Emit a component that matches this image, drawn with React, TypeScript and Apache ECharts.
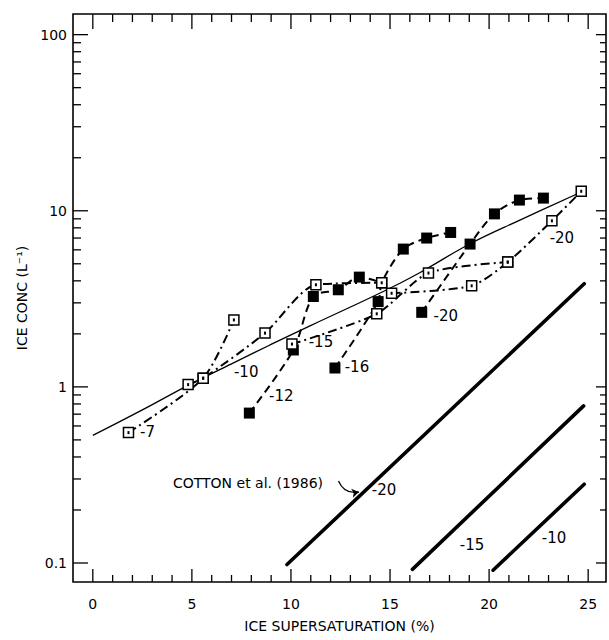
import React, { useEffect, useRef } from 'react';
import * as echarts from 'echarts';

// ---- axis ticks / labels ----
const xTickLabels = [0, 5, 10, 15, 20, 25];
const xMinorTicks = [1, 2, 3, 4, 6, 7, 8, 9, 11, 12, 13, 14, 16, 17, 18, 19, 21, 22, 23, 24];
const yTickValues = [0.1, 1, 10, 100];
const yTickLabels = ['0.1', '1', '10', '100'];
const yMinorTicks = [0.2, 0.3, 0.4, 0.5, 0.6, 0.7, 0.8, 0.9, 2, 3, 4, 5, 6, 7, 8, 9, 20, 30, 40, 50, 60, 70, 80, 90];

// ---- fitted curve (solid) ----
const fitCurve = [
  [0, 0.53], [2.5, 0.74], [4.81, 1.02], [7, 1.35], [8.94, 1.73], [10.96, 2.22],
  [14.66, 3.48], [16.5, 4.45], [19.04, 6.5], [21.5, 8.8], [24.6, 12.7],
];

// ---- open squares (dash-dot) ----
const t7Open = [[1.8, 0.55], [5.57, 1.12], [7.12, 2.4]];
const t10Open = [[4.81, 1.03], [5.57, 1.12], [8.69, 2.02], [11.26, 3.8], [14.58, 3.9]];
const t15Open = [[10.05, 1.75], [14.33, 2.6], [16.94, 4.43], [20.94, 5.11]];
const t20Open = [[15.08, 3.4], [19.12, 3.75], [20.94, 5.11], [23.17, 8.77], [24.65, 12.9]];

// ---- filled squares (dashed) ----
const t12Filled = [[7.9, 0.71], [10.12, 1.62], [11.13, 3.26], [12.39, 3.56], [13.45, 4.2], [14.58, 3.9]];
const t16Filled = [[12.22, 1.28], [14.4, 3.05], [14.58, 3.9], [15.67, 6.06], [16.85, 7.0], [18.06, 7.53]];
const t20Filled = [[16.6, 2.65], [19.04, 6.47], [20.27, 9.6], [21.53, 11.5], [22.74, 11.8]];

// ---- Cotton et al. (1986) lines ----
const cotton20 = [[9.8, 0.098], [24.8, 3.85]];
const cotton15 = [[16.13, 0.092], [24.77, 0.78]];
const cotton10 = [[20.2, 0.091], [24.8, 0.28]];

const X_MIN = -1;
const X_MAX = 25.9;
const Y_MIN = 0.078;
const Y_MAX = 131;

const FONT = 'DejaVu Sans';

export default function App() {
  const ref = useRef<HTMLDivElement>(null);

  useEffect(() => {
    if (!ref.current) return;
    const chart = echarts.init(ref.current, undefined, { renderer: 'svg' });

    const tickItems: number[][] = [];
    yTickValues.forEach((v) => { tickItems.push([X_MIN, v, 15, 0]); tickItems.push([X_MAX, v, 10, 1]); });
    yMinorTicks.forEach((v) => { tickItems.push([X_MIN, v, 8, 0]); tickItems.push([X_MAX, v, 6, 1]); });
    xTickLabels.forEach((v) => { tickItems.push([v, Y_MIN, 13, 2]); tickItems.push([v, Y_MAX, 15, 3]); });
    xMinorTicks.forEach((v) => { tickItems.push([v, Y_MIN, 7, 2]); tickItems.push([v, Y_MAX, 8, 3]); });

    const labelStyle = { color: '#000', opacity: 1, fontSize: 15, fontFamily: FONT };

    const withLabel = (data: number[][], idx: number, text: string, offset: number[]) =>
      data.map((d, i) =>
        i === idx
          ? { value: d, label: { show: true, formatter: text, position: 'inside', offset, ...labelStyle } }
          : d
      );

    const openSeries = (name: string, data: any[]) => ({
      name,
      type: 'line',
      data,
      smooth: 0.25,
      symbol: 'rect',
      symbolSize: 10,
      showAllSymbol: true,
      z: 4,
      lineStyle: { color: '#000', width: 2, type: [9, 4, 2, 4] },
      itemStyle: { color: '#fff', borderColor: '#000', borderWidth: 1.5, opacity: 1 },
    });

    const filledSeries = (name: string, data: any[]) => ({
      name,
      type: 'line',
      data,
      smooth: 0.3,
      symbol: 'rect',
      symbolSize: 11,
      showAllSymbol: true,
      z: 3,
      lineStyle: { color: '#000', width: 2, type: [8, 5] },
      itemStyle: { color: '#000', borderColor: '#000', borderWidth: 0, opacity: 1 },
    });

    const cottonSeries = (name: string, data: number[][]) => ({
      name,
      type: 'line',
      data,
      symbol: 'none',
      z: 2,
      lineStyle: { color: '#000', width: 3.6, cap: 'round' },
    });

    const allOpen = [...t7Open, ...t10Open, ...t15Open, ...t20Open];

    const option: any = {
      animation: false,
      backgroundColor: '#fff',
      grid: {
        left: 73, right: 3, top: 14, bottom: 58,
        show: true, borderColor: '#000', borderWidth: 1.6, backgroundColor: 'transparent',
        outerBoundsMode: 'none',
      },
      xAxis: {
        type: 'value',
        min: X_MIN,
        max: X_MAX,
        interval: 1,
        axisLine: { show: false },
        axisTick: { show: false },
        splitLine: { show: false },
        axisLabel: {
          margin: 15,
          color: '#000',
          fontSize: 14,
          fontFamily: FONT,
          showMinLabel: false,
          showMaxLabel: false,
          formatter: (v: number) => (xTickLabels.includes(Math.round(v)) && Math.abs(v - Math.round(v)) < 1e-6 ? String(Math.round(v)) : ''),
        },
        name: 'ICE SUPERSATURATION (%)',
        nameLocation: 'middle',
        nameGap: 37,
        nameTextStyle: { color: '#000', fontSize: 14, fontFamily: FONT },
      },
      yAxis: {
        type: 'log',
        logBase: 10,
        min: Y_MIN,
        max: Y_MAX,
        axisLine: { show: false },
        axisTick: { show: false },
        splitLine: { show: false },
        minorTick: { show: false },
        axisLabel: {
          margin: 6,
          color: '#000',
          fontSize: 14,
          fontFamily: FONT,
          formatter: (v: number) => {
            const i = yTickValues.findIndex((t) => Math.abs(Math.log10(v) - Math.log10(t)) < 1e-3);
            return i >= 0 ? yTickLabels[i] : '';
          },
        },
        name: 'ICE CONC (L⁻¹)',
        nameLocation: 'middle',
        nameGap: 40,
        nameTextStyle: { color: '#000', fontSize: 14, fontFamily: FONT },
      },
      series: [
        {
          name: 'fit',
          type: 'line',
          data: fitCurve,
          smooth: 0.4,
          symbol: 'none',
          z: 2,
          lineStyle: { color: '#000', width: 1.3 },
        },
        cottonSeries('cotton-20', cotton20),
        cottonSeries('cotton-15', cotton15),
        cottonSeries('cotton-10', cotton10),
        filledSeries('-12', withLabel(t12Filled, 0, '-12', [32, -17])),
        filledSeries('-16', withLabel(t16Filled, 0, '-16', [22, -1])),
        filledSeries('-20f', withLabel(t20Filled, 0, '-20', [24, 4])),
        openSeries('-7', withLabel(t7Open, 0, '-7', [19, -1])),
        openSeries('-10', withLabel(t10Open, 1, '-10', [43, -6])),
        openSeries('-15', withLabel(t15Open, 0, '-15', [29, -2])),
        openSeries('-20o', withLabel(t20Open, 3, '-20', [10, 17])),
        {
          name: 'glyph',
          type: 'scatter',
          data: allOpen,
          symbol: 'rect',
          symbolSize: [2, 3],
          z: 5,
          silent: true,
          itemStyle: { color: '#000', opacity: 1 },
        },
        {
          name: 'annotations',
          type: 'scatter',
          symbolSize: 0,
          z: 6,
          silent: true,
          itemStyle: { color: '#000', opacity: 1 },
          data: [
            { value: [7.83, 0.285], label: { show: true, formatter: 'COTTON et al. (1986)', position: 'inside', ...labelStyle, fontSize: 14 } },
            { value: [14.7, 0.26], label: { show: true, formatter: '-20', position: 'inside', ...labelStyle } },
            { value: [19.14, 0.126], label: { show: true, formatter: '-15', position: 'inside', ...labelStyle } },
            { value: [23.28, 0.139], label: { show: true, formatter: '-10', position: 'inside', ...labelStyle } },
          ],
        },
        {
          name: 'arrow',
          type: 'lines',
          coordinateSystem: 'cartesian2d',
          z: 6,
          silent: true,
          symbol: ['none', 'arrow'],
          symbolSize: 7,
          lineStyle: { color: '#000', width: 1.3, curveness: -0.4, opacity: 1 },
          data: [{ coords: [[12.4, 0.292], [13.43, 0.253]] }],
        },
        {
          name: 'ticks',
          type: 'custom',
          clip: false,
          silent: true,
          z: 7,
          data: tickItems,
          encode: { x: 0, y: 1 },
          renderItem: (params: any, api: any) => {
            const p = api.coord([api.value(0), api.value(1)]);
            const len = api.value(2);
            const dir = api.value(3);
            let x2 = p[0];
            let y2 = p[1];
            if (dir === 0) x2 += len;
            else if (dir === 1) x2 -= len;
            else if (dir === 2) y2 -= len;
            else y2 += len;
            return {
              type: 'line',
              shape: { x1: p[0], y1: p[1], x2, y2 },
              style: { stroke: '#000', lineWidth: 1.3 },
            };
          },
        },
      ],
    };

    chart.setOption(option);
    return () => chart.dispose();
  }, []);

  return <div ref={ref} style={{ position: 'fixed', left: 0, top: 0, width: 609, height: 640 }} />;
}
